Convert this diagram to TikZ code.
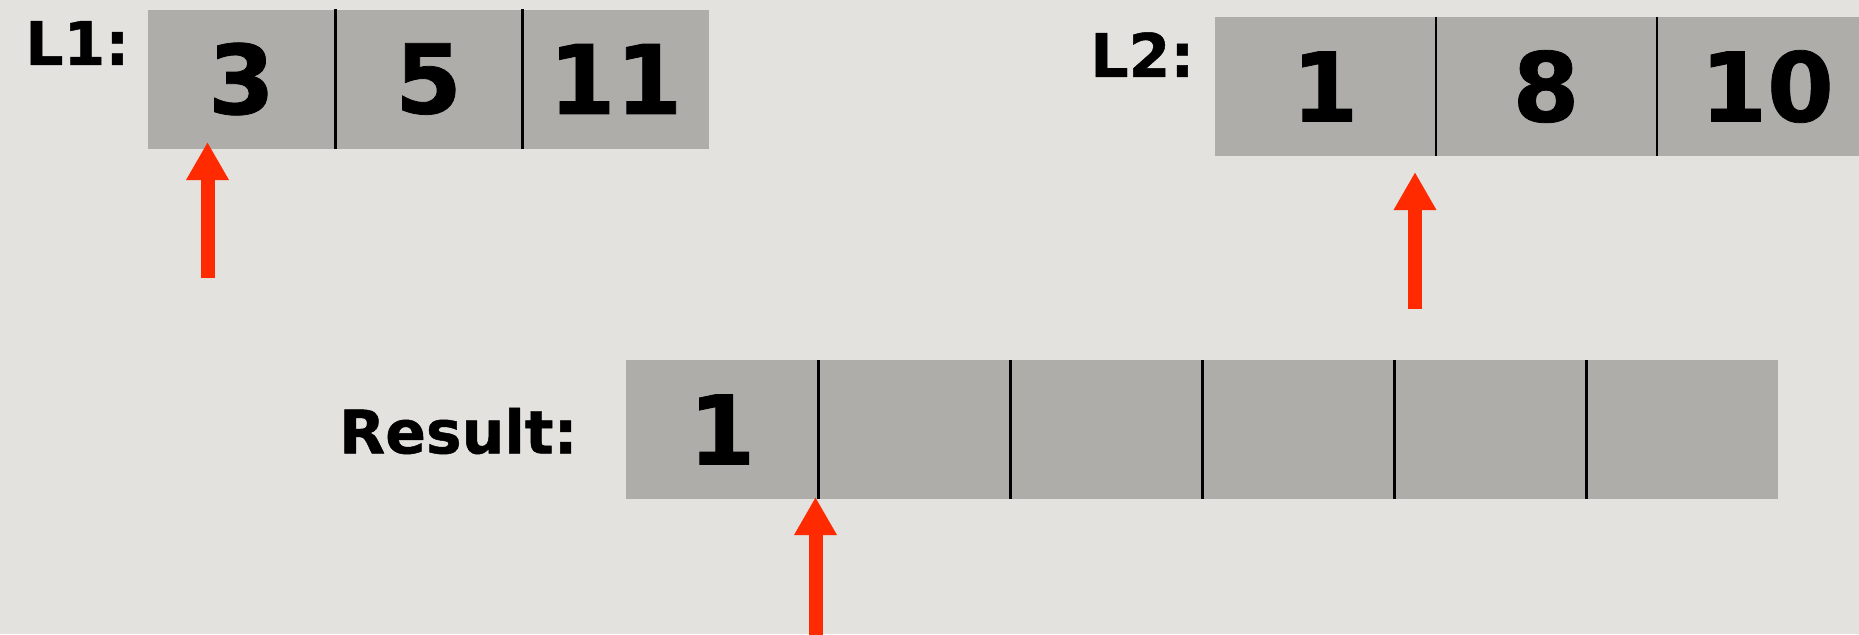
\documentclass[tikz,border=0pt]{standalone}
\usepackage{fontspec}
\setmainfont{DejaVu Sans}
\newfontfamily\heavyfont[FakeBold=0.8]{DejaVu Sans Bold}
\usetikzlibrary{arrows.meta}
\definecolor{paper}{HTML}{E3E2DE}
\definecolor{cellgray}{HTML}{AEADA9}
\definecolor{ptrred}{HTML}{FF2A00}
\tikzset{
  cell/.style={fill=cellgray, inner sep=0pt, minimum height=69.5pt,
    font=\heavyfont\fontsize{48}{48}\selectfont},
  lbl/.style={inner sep=0pt, font=\heavyfont\fontsize{30}{30}\selectfont},
  ptr/.style={ptrred, line width=7pt, -{Triangle[width=20pt,length=19pt]}},
  sep/.style={line width=1.3pt}
}
\begin{document}
\begin{tikzpicture}[x=0.5pt,y=-0.5pt]
  \useasboundingbox (0,0) rectangle (1859,634);
  \clip (0,0) rectangle (1859,634);
  \fill[paper] (0,0) rectangle (1859,634);
  % first list
  \node[lbl,anchor=west] (lab1) at (25,43) {L1:};
  \foreach \v [count=\i] in {3,5,11}
    \node[cell,minimum width=93.5pt] (l1c\i) at (54.5+187*\i,79) {\raisebox{-1.5pt}{\v}};
  \foreach \i in {1,2} \draw[sep] (l1c\i.north east) -- (l1c\i.south east);
  % second list
  \node[lbl,anchor=west] (lab2) at (1090,54.5) {L2:};
  \foreach \v [count=\i] in {1,8,10}
    \node[cell,minimum width=110.5pt] (l2c\i) at (1104+221*\i,86.5) {\raisebox{-1.5pt}{\v}};
  \foreach \i in {1,2} \draw[sep] (l2c\i.north east) -- (l2c\i.south east);
  % merged list
  \node[lbl,anchor=east] (labr) at (578,431) {Result:};
  \foreach \v [count=\i] in {1,{},{},{},{},{}}
    \node[cell,minimum width=96pt] (rc\i) at (530+192*\i,429.5) {\raisebox{-1pt}{\v}};
  \foreach \i in {1,...,5} \draw[sep] (rc\i.north east) -- (rc\i.south east);
  % pointers
  \coordinate (p1tail) at (207.5,278);
  \coordinate (p1head) at (207.5,142);
  \coordinate (p2tail) at (1415,309);
  \coordinate (p2head) at (1415,172);
  \coordinate (p3tail) at (815.5,660);
  \coordinate (p3head) at (815.5,497);
  \draw[ptr] (p1tail) -- (p1head);
  \draw[ptr] (p2tail) -- (p2head);
  \draw[ptr] (p3tail) -- (p3head);
\end{tikzpicture}
\end{document}
